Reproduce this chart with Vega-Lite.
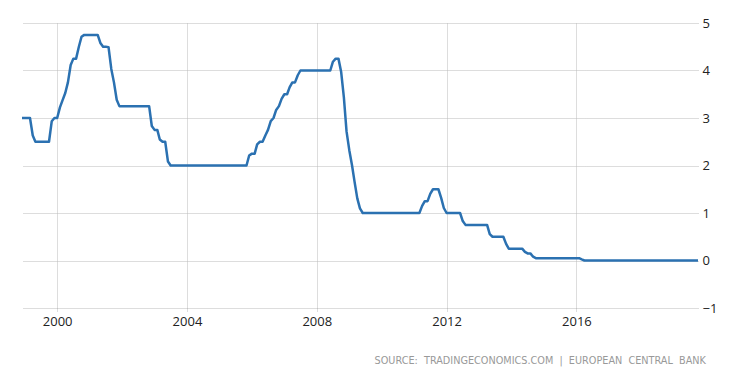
{
  "$schema": "https://vega.github.io/schema/vega-lite/v6.json",
  "width": 676,
  "height": 285,
  "autosize": {"type": "none"},
  "padding": {"left": 22, "top": 23, "right": 56, "bottom": 69},
  "background": "white",
  "config": {"view": {"stroke": null}, "font": "Open Sans"},
  "title": {
    "text": "SOURCE:\u00a0\u00a0TRADINGECONOMICS.COM\u00a0\u00a0|\u00a0\u00a0EUROPEAN\u00a0\u00a0CENTRAL\u00a0\u00a0BANK",
    "orient": "bottom",
    "anchor": "end",
    "font": "DejaVu Sans",
    "fontSize": 9.7,
    "fontWeight": "normal",
    "color": "#999999",
    "offset": 28,
    "dx": -11
  },
  "data": {"values": [
    {"d":"1998-12-01","v":3},
    {"d":"1999-01-01","v":3},{"d":"1999-02-01","v":3},{"d":"1999-03-01","v":3},{"d":"1999-04-01","v":2.633},{"d":"1999-05-01","v":2.5},{"d":"1999-06-01","v":2.5},{"d":"1999-07-01","v":2.5},{"d":"1999-08-01","v":2.5},{"d":"1999-09-01","v":2.5},{"d":"1999-10-01","v":2.5},{"d":"1999-11-01","v":2.933},{"d":"1999-12-01","v":3},
    {"d":"2000-01-01","v":3},{"d":"2000-02-01","v":3.224},{"d":"2000-03-01","v":3.371},{"d":"2000-04-01","v":3.525},{"d":"2000-05-01","v":3.75},{"d":"2000-06-01","v":4.117},{"d":"2000-07-01","v":4.25},{"d":"2000-08-01","v":4.25},{"d":"2000-09-01","v":4.5},{"d":"2000-10-01","v":4.71},{"d":"2000-11-01","v":4.75},{"d":"2000-12-01","v":4.75},
    {"d":"2001-01-01","v":4.75},{"d":"2001-02-01","v":4.75},{"d":"2001-03-01","v":4.75},{"d":"2001-04-01","v":4.75},{"d":"2001-05-01","v":4.581},{"d":"2001-06-01","v":4.5},{"d":"2001-07-01","v":4.5},{"d":"2001-08-01","v":4.492},{"d":"2001-09-01","v":4.033},{"d":"2001-10-01","v":3.75},{"d":"2001-11-01","v":3.383},{"d":"2001-12-01","v":3.25},
    {"d":"2002-01-01","v":3.25},{"d":"2002-02-01","v":3.25},{"d":"2002-03-01","v":3.25},{"d":"2002-04-01","v":3.25},{"d":"2002-05-01","v":3.25},{"d":"2002-06-01","v":3.25},{"d":"2002-07-01","v":3.25},{"d":"2002-08-01","v":3.25},{"d":"2002-09-01","v":3.25},{"d":"2002-10-01","v":3.25},{"d":"2002-11-01","v":3.25},{"d":"2002-12-01","v":2.831},
    {"d":"2003-01-01","v":2.75},{"d":"2003-02-01","v":2.75},{"d":"2003-03-01","v":2.548},{"d":"2003-04-01","v":2.5},{"d":"2003-05-01","v":2.5},{"d":"2003-06-01","v":2.083},{"d":"2003-07-01","v":2},{"d":"2003-08-01","v":2},{"d":"2003-09-01","v":2},{"d":"2003-10-01","v":2},{"d":"2003-11-01","v":2},{"d":"2003-12-01","v":2},
    {"d":"2004-01-01","v":2},{"d":"2004-02-01","v":2},{"d":"2004-03-01","v":2},{"d":"2004-04-01","v":2},{"d":"2004-05-01","v":2},{"d":"2004-06-01","v":2},{"d":"2004-07-01","v":2},{"d":"2004-08-01","v":2},{"d":"2004-09-01","v":2},{"d":"2004-10-01","v":2},{"d":"2004-11-01","v":2},{"d":"2004-12-01","v":2},
    {"d":"2005-01-01","v":2},{"d":"2005-02-01","v":2},{"d":"2005-03-01","v":2},{"d":"2005-04-01","v":2},{"d":"2005-05-01","v":2},{"d":"2005-06-01","v":2},{"d":"2005-07-01","v":2},{"d":"2005-08-01","v":2},{"d":"2005-09-01","v":2},{"d":"2005-10-01","v":2},{"d":"2005-11-01","v":2},{"d":"2005-12-01","v":2.21},
    {"d":"2006-01-01","v":2.25},{"d":"2006-02-01","v":2.25},{"d":"2006-03-01","v":2.444},{"d":"2006-04-01","v":2.5},{"d":"2006-05-01","v":2.5},{"d":"2006-06-01","v":2.633},{"d":"2006-07-01","v":2.75},{"d":"2006-08-01","v":2.935},{"d":"2006-09-01","v":3},{"d":"2006-10-01","v":3.169},{"d":"2006-11-01","v":3.25},{"d":"2006-12-01","v":3.403},
    {"d":"2007-01-01","v":3.5},{"d":"2007-02-01","v":3.5},{"d":"2007-03-01","v":3.645},{"d":"2007-04-01","v":3.75},{"d":"2007-05-01","v":3.75},{"d":"2007-06-01","v":3.9},{"d":"2007-07-01","v":4},{"d":"2007-08-01","v":4},{"d":"2007-09-01","v":4},{"d":"2007-10-01","v":4},{"d":"2007-11-01","v":4},{"d":"2007-12-01","v":4},
    {"d":"2008-01-01","v":4},{"d":"2008-02-01","v":4},{"d":"2008-03-01","v":4},{"d":"2008-04-01","v":4},{"d":"2008-05-01","v":4},{"d":"2008-06-01","v":4},{"d":"2008-07-01","v":4.185},{"d":"2008-08-01","v":4.25},{"d":"2008-09-01","v":4.25},{"d":"2008-10-01","v":3.976},{"d":"2008-11-01","v":3.433},{"d":"2008-12-01","v":2.718},
    {"d":"2009-01-01","v":2.323},{"d":"2009-02-01","v":2},{"d":"2009-03-01","v":1.661},{"d":"2009-04-01","v":1.308},{"d":"2009-05-01","v":1.097},{"d":"2009-06-01","v":1},{"d":"2009-07-01","v":1},{"d":"2009-08-01","v":1},{"d":"2009-09-01","v":1},{"d":"2009-10-01","v":1},{"d":"2009-11-01","v":1},{"d":"2009-12-01","v":1},
    {"d":"2010-01-01","v":1},{"d":"2010-02-01","v":1},{"d":"2010-03-01","v":1},{"d":"2010-04-01","v":1},{"d":"2010-05-01","v":1},{"d":"2010-06-01","v":1},{"d":"2010-07-01","v":1},{"d":"2010-08-01","v":1},{"d":"2010-09-01","v":1},{"d":"2010-10-01","v":1},{"d":"2010-11-01","v":1},{"d":"2010-12-01","v":1},
    {"d":"2011-01-01","v":1},{"d":"2011-02-01","v":1},{"d":"2011-03-01","v":1},{"d":"2011-04-01","v":1.15},{"d":"2011-05-01","v":1.25},{"d":"2011-06-01","v":1.25},{"d":"2011-07-01","v":1.403},{"d":"2011-08-01","v":1.5},{"d":"2011-09-01","v":1.5},{"d":"2011-10-01","v":1.5},{"d":"2011-11-01","v":1.317},{"d":"2011-12-01","v":1.105},
    {"d":"2012-01-01","v":1},{"d":"2012-02-01","v":1},{"d":"2012-03-01","v":1},{"d":"2012-04-01","v":1},{"d":"2012-05-01","v":1},{"d":"2012-06-01","v":1},{"d":"2012-07-01","v":0.831},{"d":"2012-08-01","v":0.75},{"d":"2012-09-01","v":0.75},{"d":"2012-10-01","v":0.75},{"d":"2012-11-01","v":0.75},{"d":"2012-12-01","v":0.75},
    {"d":"2013-01-01","v":0.75},{"d":"2013-02-01","v":0.75},{"d":"2013-03-01","v":0.75},{"d":"2013-04-01","v":0.75},{"d":"2013-05-01","v":0.556},{"d":"2013-06-01","v":0.5},{"d":"2013-07-01","v":0.5},{"d":"2013-08-01","v":0.5},{"d":"2013-09-01","v":0.5},{"d":"2013-10-01","v":0.5},{"d":"2013-11-01","v":0.35},{"d":"2013-12-01","v":0.25},
    {"d":"2014-01-01","v":0.25},{"d":"2014-02-01","v":0.25},{"d":"2014-03-01","v":0.25},{"d":"2014-04-01","v":0.25},{"d":"2014-05-01","v":0.25},{"d":"2014-06-01","v":0.183},{"d":"2014-07-01","v":0.15},{"d":"2014-08-01","v":0.15},{"d":"2014-09-01","v":0.08},{"d":"2014-10-01","v":0.05},{"d":"2014-11-01","v":0.05},{"d":"2014-12-01","v":0.05},
    {"d":"2015-01-01","v":0.05},{"d":"2015-02-01","v":0.05},{"d":"2015-03-01","v":0.05},{"d":"2015-04-01","v":0.05},{"d":"2015-05-01","v":0.05},{"d":"2015-06-01","v":0.05},{"d":"2015-07-01","v":0.05},{"d":"2015-08-01","v":0.05},{"d":"2015-09-01","v":0.05},{"d":"2015-10-01","v":0.05},{"d":"2015-11-01","v":0.05},{"d":"2015-12-01","v":0.05},
    {"d":"2016-01-01","v":0.05},{"d":"2016-02-01","v":0.05},{"d":"2016-03-01","v":0.024},{"d":"2016-04-01","v":0},{"d":"2016-05-01","v":0},{"d":"2016-06-01","v":0},{"d":"2016-07-01","v":0},{"d":"2016-08-01","v":0},{"d":"2016-09-01","v":0},{"d":"2016-10-01","v":0},{"d":"2016-11-01","v":0},{"d":"2016-12-01","v":0},
    {"d":"2017-01-01","v":0},{"d":"2017-02-01","v":0},{"d":"2017-03-01","v":0},{"d":"2017-04-01","v":0},{"d":"2017-05-01","v":0},{"d":"2017-06-01","v":0},{"d":"2017-07-01","v":0},{"d":"2017-08-01","v":0},{"d":"2017-09-01","v":0},{"d":"2017-10-01","v":0},{"d":"2017-11-01","v":0},{"d":"2017-12-01","v":0},
    {"d":"2018-01-01","v":0},{"d":"2018-02-01","v":0},{"d":"2018-03-01","v":0},{"d":"2018-04-01","v":0},{"d":"2018-05-01","v":0},{"d":"2018-06-01","v":0},{"d":"2018-07-01","v":0},{"d":"2018-08-01","v":0},{"d":"2018-09-01","v":0},{"d":"2018-10-01","v":0},{"d":"2018-11-01","v":0},{"d":"2018-12-01","v":0},
    {"d":"2019-01-01","v":0},{"d":"2019-02-01","v":0},{"d":"2019-03-01","v":0},{"d":"2019-04-01","v":0},{"d":"2019-05-01","v":0},{"d":"2019-06-01","v":0},{"d":"2019-07-01","v":0},{"d":"2019-08-01","v":0},{"d":"2019-09-01","v":0},{"d":"2019-10-01","v":0}
  ]},
  "mark": {"type": "line", "color": "#2B71B1", "strokeWidth": 2.5, "strokeJoin": "round"},
  "encoding": {
    "x": {
      "field": "d",
      "type": "temporal",
      "scale": {"type": "utc", "domain": [{"year": 1998, "month": 12, "date": 1, "utc": true}, {"year": 2019, "month": 10, "date": 1, "utc": true}]},
      "axis": {
        "title": null,
        "values": [{"year": 2000, "utc": true}, {"year": 2004, "utc": true}, {"year": 2008, "utc": true}, {"year": 2012, "utc": true}, {"year": 2016, "utc": true}],
        "format": "%Y",
        "grid": true,
        "gridColor": "#bbbbbb",
        "gridDash": [1, 1],
        "domain": false,
        "ticks": true,
        "tickColor": "#bbbbbb",
        "tickDash": [1, 1],
        "tickSize": 4,
        "labelFont": "Open Sans",
        "labelFontSize": 13,
        "labelColor": "#222222",
        "labelPadding": 3
      }
    },
    "y": {
      "field": "v",
      "type": "quantitative",
      "scale": {"domain": [-1, 5], "nice": false, "zero": false},
      "axis": {
        "title": null,
        "orient": "right",
        "values": [-1, 0, 1, 2, 3, 4, 5],
        "grid": true,
        "gridColor": "#bbbbbb",
        "gridDash": [1, 1],
        "domain": false,
        "ticks": false,
        "labelFont": "Open Sans",
        "labelFontSize": 13,
        "labelColor": "#222222",
        "labelPadding": 4,
        "labelAlign": "left"
      }
    }
  }
}
